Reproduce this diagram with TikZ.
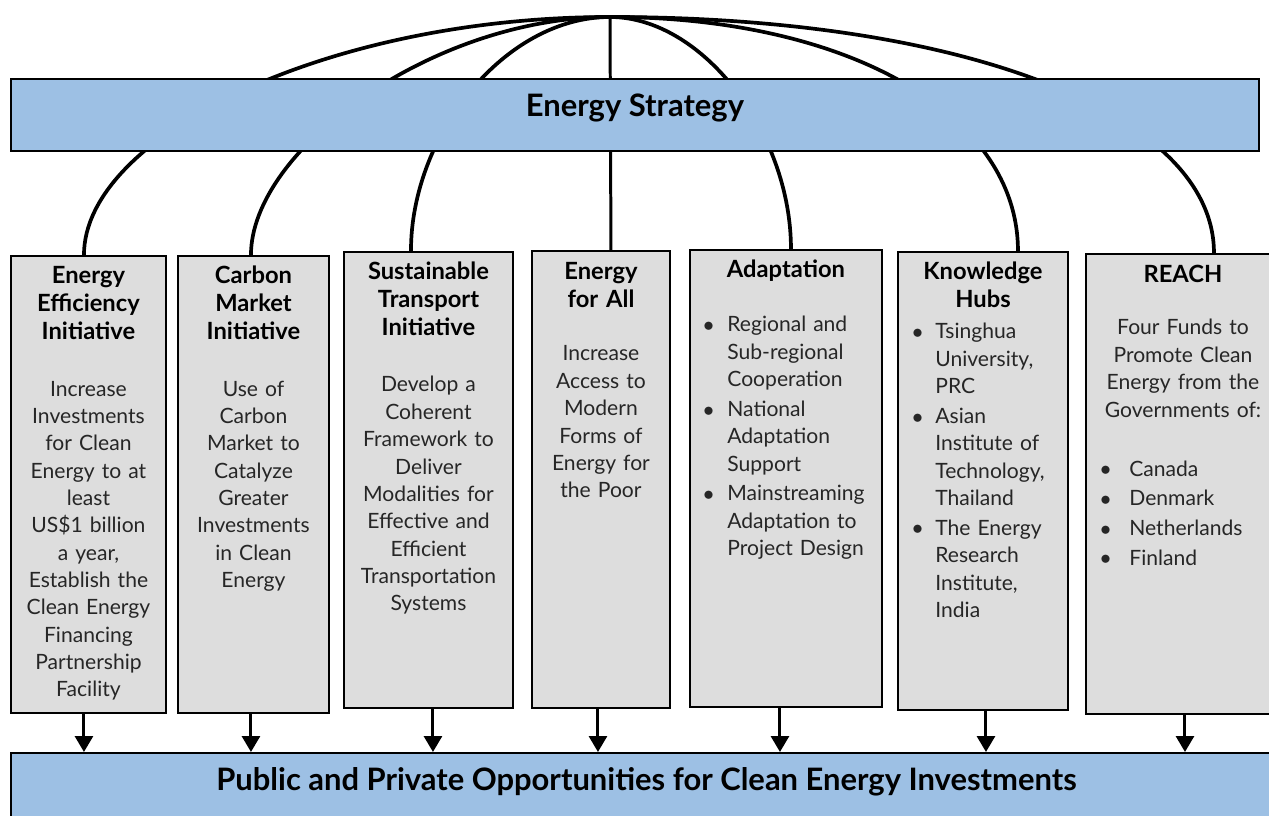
\documentclass[tikz,border=0pt]{standalone}
\usepackage{fontspec}
\setmainfont{Lato}
\usetikzlibrary{arrows.meta}

\definecolor{stratblue}{RGB}{157,192,228}
\definecolor{boxgray}{RGB}{221,221,221}
\newlength{\bulind}
\newcommand{\bitem}{\makebox[\bulind][l]{\raisebox{0.02em}{\large$\bullet$}}}
\newcommand{\bcont}{\hspace*{\bulind}}
\newcommand{\headfont}{\fontsize{13.5}{15.9}\selectfont\bfseries}
\newcommand{\bodyfont}{\fontsize{12}{15.56}\selectfont}

\tikzset{
  sbox/.style={draw, line width=1.1pt, fill=stratblue, anchor=north west, inner sep=0pt},
  ebox/.style={draw, line width=1.1pt, fill=boxgray, anchor=north west, inner sep=0pt},
  ttl/.style={font=\fontsize{17.6}{20}\selectfont\bfseries, anchor=base, inner sep=0pt},
  head/.style={font=\headfont, align=center, anchor=base, inner sep=0pt},
  body/.style={font=\bodyfont, align=center, anchor=base, inner sep=0pt, text=black!85},
  blist/.style={font=\bodyfont, align=left, anchor=base west, inner sep=0pt, text=black!85,
    execute at begin node={\setlength{\bulind}{#1}}},
  arc/.style={line width=2.1pt},
  flow/.style={line width=1.7pt, -{Triangle[width=0.36cm,length=0.32cm]}}
}

\begin{document}
\begin{tikzpicture}
    \useasboundingbox (0,0) rectangle (25.38,-16.32);

    \node[ebox, minimum width=3.10cm, minimum height=9.14cm] (e1) at (0.20,-5.10) {};
    \node[ebox, minimum width=3.02cm, minimum height=9.14cm] (e2) at (3.54,-5.10) {};
    \node[ebox, minimum width=3.38cm, minimum height=9.12cm] (e3) at (6.86,-5.02) {};
    \node[ebox, minimum width=2.76cm, minimum height=9.14cm] (e4) at (10.62,-5.00) {};
    \node[ebox, minimum width=3.84cm, minimum height=9.14cm] (e5) at (13.78,-4.98) {};
    \node[ebox, minimum width=3.40cm, minimum height=9.16cm] (e6) at (17.94,-5.02) {};
    \node[ebox, minimum width=3.88cm, minimum height=9.20cm] (e7) at (21.70,-5.06) {};

    \coordinate (apex) at (12.2,-0.34);
    \draw[arc] (apex) to[out=180, in=90, out distance=5.65cm, in distance=2.38cm] ([xshift=-0.09cm]e1.north);
    \draw[arc] (apex) to[out=180, in=90, out distance=3.55cm, in distance=2.10cm] ([xshift=-0.05cm]e2.north);
    \draw[arc] (apex) to[out=180, in=90, out distance=2.10cm, in distance=2.33cm] ([xshift=-0.35cm]e3.north);
    \draw[line width=1.7pt] (apex) -- ([xshift=0.2cm]e4.north);
    \draw[arc] (apex) to[out=0, in=90, out distance=1.85cm, in distance=2.32cm] ([xshift=0.10cm]e5.north);
    \draw[arc] (apex) to[out=0, in=90, out distance=4.80cm, in distance=2.72cm] ([xshift=0.70cm]e6.north);
    \draw[arc] (apex) to[out=0, in=90, out distance=7.20cm, in distance=2.74cm] ([xshift=0.62cm]e7.north);

    \node[sbox, minimum width=24.96cm, minimum height=1.44cm] (strat) at (0.20,-1.56) {};
    \node[ttl] at ([yshift=-0.04cm]strat.center) {Energy Strategy};

    \node[sbox, minimum width=25.60cm, minimum height=1.60cm] (out) at (0.20,-15.04) {};
    \node[ttl] at (12.93,-15.80) {Public and Private Opportunities for Clean Energy Investments};

    \node[head, text width=3.0cm] at ([yshift=-0.58cm]e1.north) {Energy\\ Efficiency\\ Initiative};
    \node[body, text width=3.0cm] at ([yshift=-2.82cm]e1.north) {Increase\\ Investments\\ for Clean\\ Energy to at\\ least\\ US\$1 billion\\ a year,\\ Establish the\\ Clean Energy\\ Financing\\ Partnership\\ Facility};

    \node[head, text width=2.9cm] at ([yshift=-0.58cm]e2.north) {Carbon\\ Market\\ Initiative};
    \node[body, text width=2.9cm] at ([yshift=-2.82cm]e2.north) {Use of\\ Carbon\\ Market to\\ Catalyze\\ Greater\\ Investments\\ in Clean\\ Energy};

    \node[head, text width=3.3cm] at ([yshift=-0.58cm]e3.north) {Sustainable\\ Transport\\ Initiative};
    \node[body, text width=3.3cm] at ([yshift=-2.82cm]e3.north) {Develop a\\ Coherent\\ Framework to\\ Deliver\\ Modalities for\\ Effective and\\ Efficient\\ Transportation\\ Systems};

    \node[head, text width=2.7cm] at ([yshift=-0.60cm]e4.north) {Energy\\ for All};
    \node[body, text width=2.7cm] at ([yshift=-2.22cm]e4.north) {Increase\\ Access to\\ Modern\\ Forms of\\ Energy for\\ the Poor};

    \node[head, text width=3.7cm] at ([yshift=-0.58cm]e5.north) {Adaptation};
    \node[blist=0.48cm, text width=3.5cm] at ([xshift=0.28cm, yshift=-1.66cm]e5.north west)
      {\bitem Regional and\\ \bcont Sub-regional\\ \bcont Cooperation\\[1.4pt]
       \bitem National\\ \bcont Adaptation\\ \bcont Support\\[1.4pt]
       \bitem Mainstreaming\\ \bcont Adaptation to\\ \bcont Project Design};

    \node[head, text width=3.3cm] at ([yshift=-0.58cm]e6.north) {Knowledge\\ Hubs};
    \node[blist=0.46cm, text width=3.1cm] at ([xshift=0.30cm, yshift=-1.76cm]e6.north west)
      {\bitem Tsinghua\\ \bcont University,\\ \bcont PRC\\[1.4pt]
       \bitem Asian\\ \bcont Institute of\\ \bcont Technology,\\ \bcont Thailand\\[1.4pt]
       \bitem The Energy\\ \bcont Research\\ \bcont Institute,\\ \bcont India};

    \node[head, text width=3.7cm] at ([yshift=-0.60cm]e7.north) {REACH};
    \node[body, text width=3.7cm] at ([yshift=-1.64cm]e7.north) {Four Funds to\\ Promote Clean\\ Energy from the\\ Governments of:};
    \node[blist=0.58cm, text width=3.5cm] at ([xshift=0.30cm, yshift=-4.46cm]e7.north west)
      {\bitem Canada\\[1.4pt] \bitem Denmark\\[1.4pt] \bitem Netherlands\\[1.4pt] \bitem Finland};

    \draw[flow] ([xshift=-0.09cm]e1.south) -- ([xshift=-0.09cm]e1.south |- out.north);
    \draw[flow] ([xshift=-0.05cm]e2.south) -- ([xshift=-0.05cm]e2.south |- out.north);
    \draw[flow] ([xshift=0.09cm]e3.south) -- ([xshift=0.09cm]e3.south |- out.north);
    \draw[flow] ([xshift=-0.06cm]e4.south) -- ([xshift=-0.06cm]e4.south |- out.north);
    \draw[flow] ([xshift=-0.12cm]e5.south) -- ([xshift=-0.12cm]e5.south |- out.north);
    \draw[flow] ([xshift=0.06cm]e6.south) -- ([xshift=0.06cm]e6.south |- out.north);
    \draw[flow] ([xshift=0.04cm]e7.south) -- ([xshift=0.04cm]e7.south |- out.north);

\end{tikzpicture}
\end{document}
